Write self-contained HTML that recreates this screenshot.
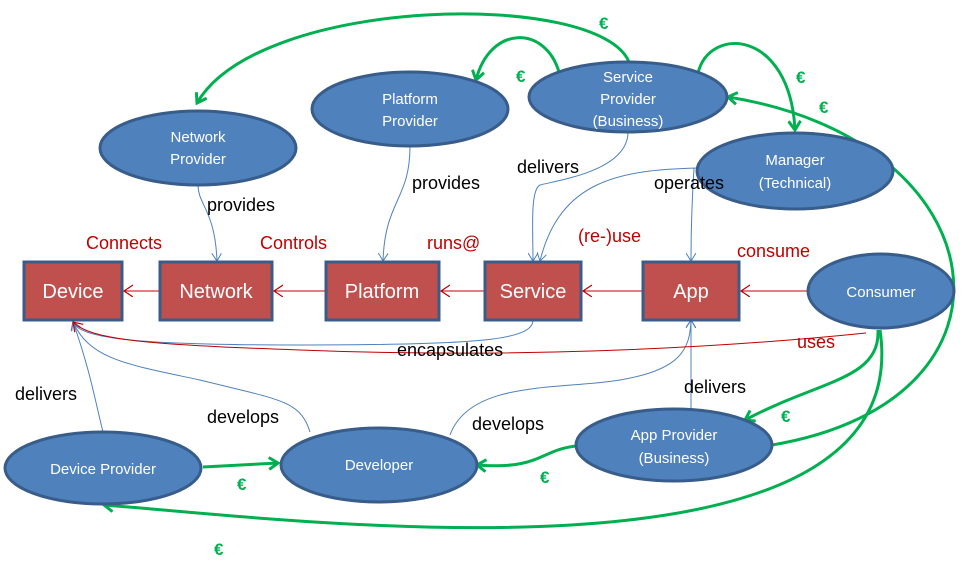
<!DOCTYPE html>
<html><head><style>body{margin:0;background:#fff}svg{display:block}</style></head><body>
<svg width="967" height="569" viewBox="0 0 967 569" xmlns="http://www.w3.org/2000/svg" font-family="Liberation Sans, sans-serif">
<defs>
<marker id="ab" markerWidth="10" markerHeight="10" refX="8" refY="5" orient="auto" markerUnits="userSpaceOnUse"><path d="M0,0 L8,5 L0,10" fill="none" stroke="#4f81bd" stroke-width="1"/></marker>
<marker id="ar" markerWidth="12" markerHeight="14" refX="9" refY="6" orient="auto" markerUnits="userSpaceOnUse"><path d="M0,0 L9,6 L0,12" fill="none" stroke="#c00000" stroke-width="1.2"/></marker>
<marker id="ag" markerWidth="14" markerHeight="14" refX="10" refY="7" orient="auto" markerUnits="userSpaceOnUse"><path d="M1,1 L10,7 L1,13" fill="none" stroke="#00b050" stroke-width="3"/></marker>
</defs>
<!-- green arrows -->
<g fill="none" stroke="#00b050" stroke-width="3">
<path d="M629,62 C600,-10 260,-5 197,103" marker-end="url(#ag)"/>
<path d="M559,72 C545,25 490,25 476,80" marker-end="url(#ag)"/>
<path d="M698,73 C710,25 790,30 795,130" marker-end="url(#ag)"/>
<path d="M772,445 C1040,400 1000,140 728,97" marker-end="url(#ag)"/>
<path d="M878,330 C880,380 820,380 745,420" marker-end="url(#ag)"/>
<path d="M880,330 C920,600 300,520 104,505" marker-end="url(#ag)"/>
<path d="M203,467 L278,463" marker-end="url(#ag)"/>
<path d="M576,446 C540,450 540,470 477,465" marker-end="url(#ag)"/>
</g>
<!-- blue thin connectors -->
<g fill="none" stroke="#4f81bd" stroke-width="1">
<path d="M198,185 C198,205 215,210 217,261" marker-end="url(#ab)"/>
<path d="M410,146 C410,200 385,200 383,261" marker-end="url(#ab)"/>
<path d="M628,132 C628,170 560,180 540,185 C530,190 533,230 533,261" marker-end="url(#ab)"/>
<path d="M697,168 C620,170 560,180 540,261" marker-end="url(#ab)"/>
<path d="M694,168 C692,200 691,230 691,261" marker-end="url(#ab)"/>
<path d="M533,320 C533,340 480,345 300,345 C150,345 80,340 73,322" marker-end="url(#ab)"/>
<path d="M103,432 C95,400 90,370 73,322" marker-end="url(#ab)"/>
<path d="M310,432 C300,400 280,400 200,380 C130,365 90,360 73,322" marker-end="url(#ab)"/>
<path d="M450,435 C470,380 560,390 620,380 C680,370 690,350 691,320" marker-end="url(#ab)"/>
<path d="M691,409 L691,320" marker-end="url(#ab)"/>
</g>
<!-- red connectors -->
<g fill="none" stroke="#c00000" stroke-width="1">
<path d="M160,291 L124,291" marker-end="url(#ar)"/>
<path d="M326,291 L274,291" marker-end="url(#ar)"/>
<path d="M485,291 L441,291" marker-end="url(#ar)"/>
<path d="M643,291 L583,291" marker-end="url(#ar)"/>
<path d="M808,291 L741,291" marker-end="url(#ar)"/>
<path d="M866,333 C700,350 500,358 300,350 C150,345 90,340 73,322" marker-end="url(#ar)"/>
</g>
<!-- boxes -->
<g fill="#c0504d" stroke="#385d8a" stroke-width="3">
<rect x="24" y="262" width="98" height="58"/>
<rect x="160" y="262" width="112" height="58"/>
<rect x="326" y="262" width="113" height="58"/>
<rect x="485" y="262" width="96" height="58"/>
<rect x="643" y="262" width="96" height="58"/>
</g>
<g fill="#fff" font-size="20" text-anchor="middle">
<text x="73" y="298">Device</text>
<text x="216" y="298">Network</text>
<text x="382" y="298">Platform</text>
<text x="533" y="298">Service</text>
<text x="691" y="298">App</text>
</g>
<!-- ellipses -->
<g fill="#4f81bd" stroke="#385d8a" stroke-width="3">
<ellipse cx="198" cy="148" rx="98" ry="37"/>
<ellipse cx="410" cy="109" rx="98" ry="37"/>
<ellipse cx="628" cy="97" rx="99" ry="35"/>
<ellipse cx="795" cy="171" rx="98" ry="38"/>
<ellipse cx="881" cy="291" rx="73" ry="37"/>
<ellipse cx="674" cy="445" rx="98" ry="36"/>
<ellipse cx="379" cy="465" rx="98" ry="37"/>
<ellipse cx="103" cy="468" rx="98" ry="36"/>
</g>
<g fill="#fff" font-size="15" text-anchor="middle">
<text x="198" y="142">Network</text><text x="198" y="164">Provider</text>
<text x="410" y="104">Platform</text><text x="410" y="126">Provider</text>
<text x="628" y="82">Service</text><text x="628" y="104">Provider</text><text x="628" y="126">(Business)</text>
<text x="795" y="165">Manager</text><text x="795" y="188">(Technical)</text>
<text x="881" y="297">Consumer</text>
<text x="674" y="440">App Provider</text><text x="674" y="463">(Business)</text>
<text x="379" y="470">Developer</text>
<text x="103" y="474">Device Provider</text>
</g>
<!-- labels -->
<g fill="#000" font-size="18">
<text x="207" y="211">provides</text>
<text x="412" y="189">provides</text>
<text x="517" y="173">delivers</text>
<text x="654" y="189">operates</text>
<text x="397" y="356">encapsulates</text>
<text x="15" y="400">delivers</text>
<text x="207" y="423">develops</text>
<text x="472" y="430">develops</text>
<text x="684" y="393">delivers</text>
</g>
<g fill="#c00000" font-size="18">
<text x="86" y="249">Connects</text>
<text x="260" y="249">Controls</text>
<text x="427" y="249">runs@</text>
<text x="578" y="242">(re-)use</text>
<text x="737" y="257">consume</text>
<text x="797" y="348">uses</text>
</g>
<g fill="#00b050" font-size="17" font-weight="bold">
<text x="599" y="29">€</text>
<text x="516" y="82">€</text>
<text x="796" y="83">€</text>
<text x="819" y="113">€</text>
<text x="781" y="422">€</text>
<text x="540" y="483">€</text>
<text x="237" y="490">€</text>
<text x="214" y="555">€</text>
</g>
</svg>
</body></html>
